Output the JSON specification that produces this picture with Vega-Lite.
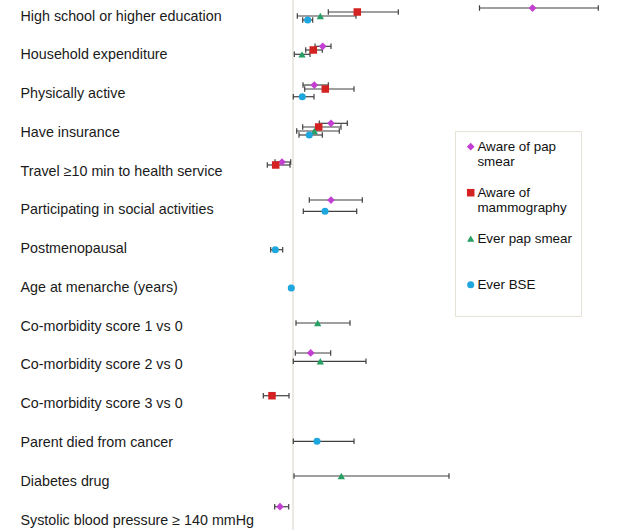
{
  "$schema": "https://vega.github.io/schema/vega-lite/v6.json",
  "width": 380,
  "height": 530,
  "autosize": {"type": "none"},
  "padding": {"left": 255, "top": 0, "right": 5, "bottom": 0},
  "background": "white",
  "config": {"view": {"stroke": null}, "font": "Liberation Sans"},
  "data": {
    "values": [
      {"category": "High school or higher education", "series": "Aware of pap smear", "or": 3.395, "lo": 2.865, "hi": 4.053, "pos": -0.206},
      {"category": "High school or higher education", "series": "Aware of mammography", "or": 1.643, "lo": 1.353, "hi": 2.053, "pos": -0.103},
      {"category": "High school or higher education", "series": "Ever pap smear", "or": 1.273, "lo": 1.043, "hi": 1.63, "pos": 0.0},
      {"category": "High school or higher education", "series": "Ever BSE", "or": 1.147, "lo": 1.097, "hi": 1.197, "pos": 0.103},
      {"category": "Household expenditure", "series": "Aware of pap smear", "or": 1.297, "lo": 1.22, "hi": 1.38, "pos": 0.782},
      {"category": "Household expenditure", "series": "Aware of mammography", "or": 1.203, "lo": 1.127, "hi": 1.293, "pos": 0.877},
      {"category": "Household expenditure", "series": "Ever pap smear", "or": 1.09, "lo": 1.013, "hi": 1.17, "pos": 0.988},
      {"category": "Physically active", "series": "Aware of pap smear", "or": 1.213, "lo": 1.1, "hi": 1.353, "pos": 1.78},
      {"category": "Physically active", "series": "Aware of mammography", "or": 1.323, "lo": 1.117, "hi": 1.61, "pos": 1.883},
      {"category": "Physically active", "series": "Ever BSE", "or": 1.093, "lo": 1.003, "hi": 1.21, "pos": 2.082},
      {"category": "Have insurance", "series": "Aware of pap smear", "or": 1.38, "lo": 1.263, "hi": 1.543, "pos": 2.768},
      {"category": "Have insurance", "series": "Aware of mammography", "or": 1.257, "lo": 1.097, "hi": 1.48, "pos": 2.863},
      {"category": "Have insurance", "series": "Ever pap smear", "or": 1.213, "lo": 1.037, "hi": 1.463, "pos": 2.966},
      {"category": "Have insurance", "series": "Ever BSE", "or": 1.163, "lo": 1.06, "hi": 1.293, "pos": 3.069},
      {"category": "Travel ≥10 min to health service", "series": "Aware of pap smear", "or": 0.89, "lo": 0.82, "hi": 0.977, "pos": 3.766},
      {"category": "Travel ≥10 min to health service", "series": "Aware of mammography", "or": 0.827, "lo": 0.743, "hi": 0.97, "pos": 3.843},
      {"category": "Participating in social activities", "series": "Aware of pap smear", "or": 1.38, "lo": 1.163, "hi": 1.693, "pos": 4.746},
      {"category": "Participating in social activities", "series": "Ever BSE", "or": 1.32, "lo": 1.103, "hi": 1.637, "pos": 5.037},
      {"category": "Postmenopausal", "series": "Ever BSE", "or": 0.823, "lo": 0.777, "hi": 0.897, "pos": 6.028},
      {"category": "Age at menarche (years)", "series": "Ever BSE", "or": 0.983, "lo": 0.978, "hi": 0.989, "pos": 7.016},
      {"category": "Co-morbidity score 1 vs 0", "series": "Ever pap smear", "or": 1.247, "lo": 1.03, "hi": 1.57, "pos": 7.918},
      {"category": "Co-morbidity score 2 vs 0", "series": "Aware of pap smear", "or": 1.177, "lo": 1.023, "hi": 1.377, "pos": 8.692},
      {"category": "Co-morbidity score 2 vs 0", "series": "Ever pap smear", "or": 1.273, "lo": 1.003, "hi": 1.73, "pos": 8.906},
      {"category": "Co-morbidity score 3 vs 0", "series": "Aware of mammography", "or": 0.79, "lo": 0.703, "hi": 0.96, "pos": 9.794},
      {"category": "Parent died from cancer", "series": "Ever BSE", "or": 1.24, "lo": 1.003, "hi": 1.61, "pos": 10.97},
      {"category": "Diabetes drug", "series": "Ever pap smear", "or": 1.483, "lo": 1.01, "hi": 2.56, "pos": 11.865},
      {"category": "Systolic blood pressure ≥ 140 mmHg", "series": "Aware of pap smear", "or": 0.87, "lo": 0.817, "hi": 0.957, "pos": 12.657}
    ]
  },
  "layer": [
    {
      "mark": {"type": "rule", "color": "#ebe9e1", "strokeWidth": 1},
      "encoding": {
        "x": {"datum": 1, "type": "quantitative", "scale": {"domain": [0.62, 4.42], "zero": false, "nice": false}, "axis": null}
      }
    },
    {
      "mark": {"type": "rule", "color": "#404040", "strokeWidth": 1.2},
      "encoding": {
        "x": {"field": "lo", "type": "quantitative", "axis": null},
        "x2": {"field": "hi"},
        "y": {"field": "pos", "type": "quantitative"}
      }
    },
    {
      "mark": {"type": "point", "shape": "M0,-1L0,1", "filled": false, "color": "#404040", "strokeWidth": 1.2, "size": 30, "opacity": 1},
      "encoding": {
        "x": {"field": "lo", "type": "quantitative", "axis": null},
        "y": {"field": "pos", "type": "quantitative"}
      }
    },
    {
      "mark": {"type": "point", "shape": "M0,-1L0,1", "filled": false, "color": "#404040", "strokeWidth": 1.2, "size": 30, "opacity": 1},
      "encoding": {
        "x": {"field": "hi", "type": "quantitative", "axis": null},
        "y": {"field": "pos", "type": "quantitative"}
      }
    },
    {
      "mark": {"type": "point", "filled": true, "opacity": 1},
      "encoding": {
        "x": {"field": "or", "type": "quantitative", "axis": null},
        "y": {
          "field": "pos",
          "type": "quantitative",
          "scale": {"domain": [-0.4127, 13.2577], "reverse": true, "zero": false, "nice": false},
          "axis": {
            "values": [0, 1, 2, 3, 4, 5, 6, 7, 8, 9, 10, 11, 12, 13],
            "labelExpr": "['High school or higher education', 'Household expenditure', 'Physically active', 'Have insurance', 'Travel ≥10 min to health service', 'Participating in social activities', 'Postmenopausal', 'Age at menarche (years)', 'Co-morbidity score 1 vs 0', 'Co-morbidity score 2 vs 0', 'Co-morbidity score 3 vs 0', 'Parent died from cancer', 'Diabetes drug', 'Systolic blood pressure ≥ 140 mmHg'][datum.value]",
            "ticks": false,
            "domain": false,
            "grid": false,
            "title": null,
            "labelAlign": "left",
            "labelBaseline": "middle",
            "labelPadding": 235,
            "labelFontSize": 14.3,
            "labelFont": "Liberation Sans",
            "labelColor": "#1a1a1a",
            "labelLimit": 400,
            "labelOverlap": false
          }
        },
        "color": {
          "field": "series",
          "type": "nominal",
          "scale": {
            "domain": ["Aware of pap smear", "Aware of mammography", "Ever pap smear", "Ever BSE"],
            "range": ["#c23fd1", "#d42222", "#26a065", "#1ea7df"]
          },
          "legend": {
            "title": null,
            "orient": "none",
            "legendX": 200,
            "legendY": 131,
            "padding": 9,
            "strokeColor": "#e6e3d6",
            "fillColor": "white",
            "labelFont": "Liberation Sans",
            "labelFontSize": 13.4,
            "labelColor": "#111111",
            "labelBaseline": "middle",
            "labelLimit": 400,
            "labelOffset": 0,
            "symbolSize": 40,
            "gridAlign": "all",
            "rowPadding": 16,
            "labelExpr": "datum.label == 'Aware of pap smear' ? ['Aware of pap', 'smear'] : datum.label == 'Aware of mammography' ? ['Aware of', 'mammography'] : datum.label == 'Ever BSE' ? ['Ever BSE', ' '] : datum.label"
          }
        },
        "shape": {
          "field": "series",
          "type": "nominal",
          "scale": {
            "domain": ["Aware of pap smear", "Aware of mammography", "Ever pap smear", "Ever BSE"],
            "range": ["diamond", "square", "triangle-up", "circle"]
          }
        },
        "size": {
          "field": "series",
          "type": "nominal",
          "scale": {
            "domain": ["Aware of pap smear", "Aware of mammography", "Ever pap smear", "Ever BSE"],
            "range": [60, 50, 60, 75]
          },
          "legend": null
        }
      }
    }
  ]
}
